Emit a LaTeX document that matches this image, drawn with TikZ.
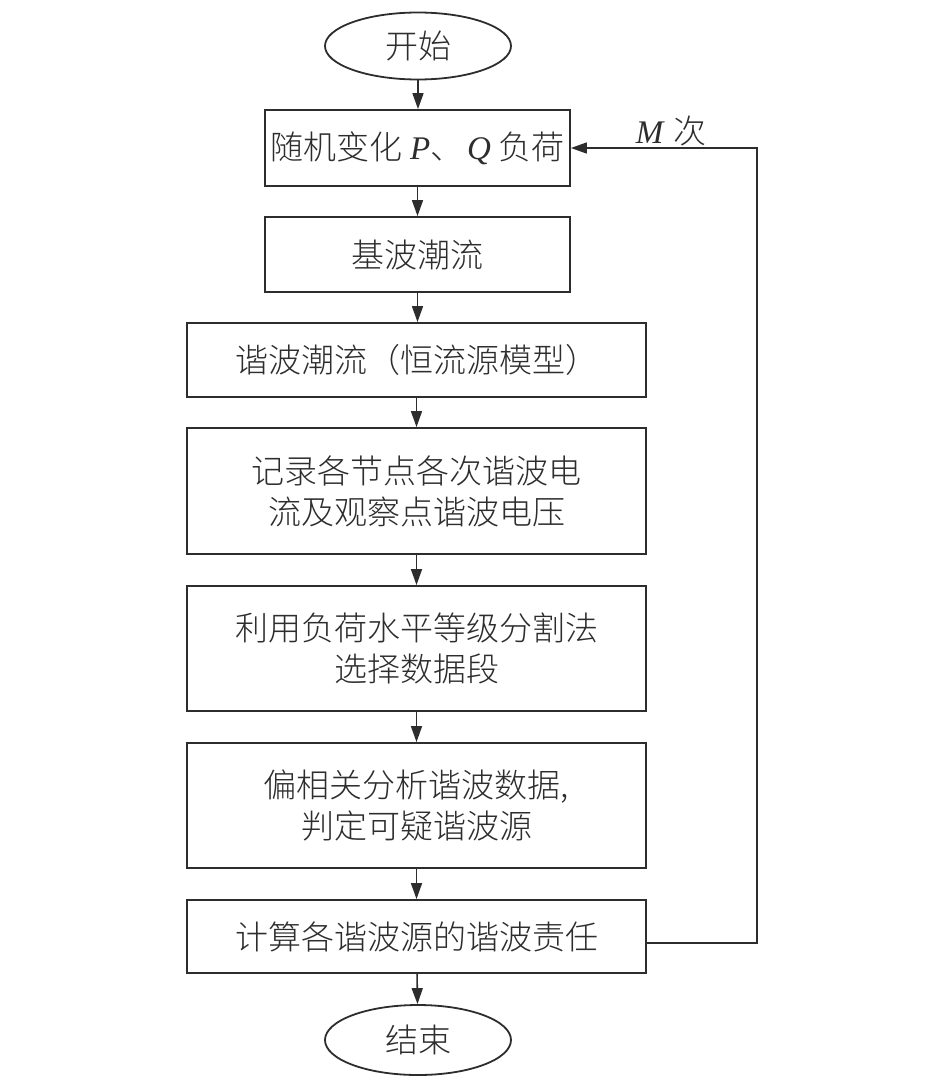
\documentclass[tikz,border=0pt]{standalone}
\usepackage{fontspec}
\setmainfont{Liberation Serif}
\newfontfamily\cjk{Noto Sans CJK SC Light}
\newfontfamily\latit{Liberation Serif}
\newcommand\latvar[1]{{\latit\itshape #1}}
\usetikzlibrary{shapes.geometric,arrows.meta}
\definecolor{linec}{RGB}{45,45,45}
\begin{document}
\begin{tikzpicture}[x=1pt,y=-1pt,
  every node/.style={text=linec},
  box/.style={draw=linec, line width=1.8pt, rectangle, align=center, inner sep=0pt,
    font=\cjk\fontsize{33}{41}\selectfont},
  term/.style={draw=linec, line width=1.8pt, ellipse, inner sep=0pt,
    minimum width=186pt, font=\cjk\fontsize{33}{41}\selectfont},
  arr/.style={draw=linec, line width=1.6pt, -{Triangle[length=16pt,width=11pt]}}]
\useasboundingbox (0,0) rectangle (945,1084);
\node[term, minimum height=67pt] (start) at (418,46) {开始};
\node[box, minimum width=305pt, minimum height=76pt] (b1) at (417.5,148) {随机变化\hspace{8pt}\latvar{P}、\hspace{4pt}\latvar{Q}\hspace{8pt}负荷};
\node[box, minimum width=305pt, minimum height=75pt] (b2) at (417.5,254.5) {基波潮流};
\node[box, minimum width=459pt, minimum height=74pt] (b3) at (416.5,360) {谐波潮流（恒流源模型）};
\node[box, minimum width=459pt, minimum height=126pt] (b4) at (416.5,491) {记录各节点各次谐波电\\流及观察点谐波电压};
\node[box, minimum width=459pt, minimum height=125pt] (b5) at (416.5,648.5) {利用负荷水平等级分割法\\选择数据段};
\node[box, minimum width=459pt, minimum height=125pt] (b6) at (416.5,805.5) {偏相关分析谐波数据,\\判定可疑谐波源};
\node[box, minimum width=459pt, minimum height=73pt] (b7) at (416.5,936.5) {计算各谐波源的谐波责任};
\node[term, minimum height=70pt] (end) at (418,1040) {结束};
\node[font=\cjk\fontsize{33}{41}\selectfont] (lbl) at (671,131) {\latvar{M}\hspace{10pt}次};
\draw[arr] (start) -- (start |- b1.north);
\draw[arr] (b1) -- (b1 |- b2.north);
\draw[arr] (b2) -- (b2 |- b3.north);
\draw[arr] (b3) -- (b3 |- b4.north);
\draw[arr] (b4) -- (b4 |- b5.north);
\draw[arr] (b5) -- (b5 |- b6.north);
\draw[arr] (b6) -- (b6 |- b7.north);
\draw[arr] (b7) -- (end);
\coordinate (c) at (757,943);
\draw[arr] (b7.east |- c) -- (c) |- (b1.east);
\end{tikzpicture}
\end{document}
